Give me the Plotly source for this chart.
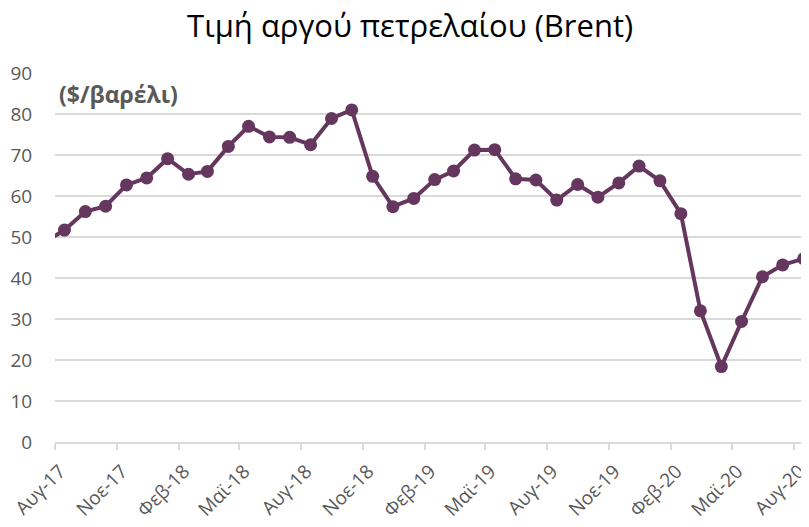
import plotly.graph_objects as go

months = ["2017-07-15", "2017-08-15", "2017-09-15", "2017-10-15", "2017-11-15", "2017-12-15",
          "2018-01-15", "2018-02-15", "2018-03-15", "2018-04-15", "2018-05-15", "2018-06-15",
          "2018-07-15", "2018-08-15", "2018-09-15", "2018-10-15", "2018-11-15", "2018-12-15",
          "2019-01-15", "2019-02-15", "2019-03-15", "2019-04-15", "2019-05-15", "2019-06-15",
          "2019-07-15", "2019-08-15", "2019-09-15", "2019-10-15", "2019-11-15", "2019-12-15",
          "2020-01-15", "2020-02-15", "2020-03-15", "2020-04-15", "2020-05-15", "2020-06-15",
          "2020-07-15", "2020-08-15"]
brent = [48.5, 51.7, 56.2, 57.5, 62.7, 64.4,
         69.1, 65.3, 66.0, 72.1, 77.0, 74.4,
         74.3, 72.5, 78.9, 81.0, 64.8, 57.4,
         59.4, 64.0, 66.1, 71.2, 71.3, 64.2,
         63.9, 59.0, 62.8, 59.7, 63.2, 67.3,
         63.7, 55.7, 32.0, 18.4, 29.4, 40.3,
         43.2, 44.7]

tick_dates = ["2017-08-01", "2017-11-01", "2018-02-01", "2018-05-01", "2018-08-01",
              "2018-11-01", "2019-02-01", "2019-05-01", "2019-08-01", "2019-11-01",
              "2020-02-01", "2020-05-01", "2020-08-01"]
tick_labels = ["Αυγ-17", "Νοε-17", "Φεβ-18", "Μαϊ-18", "Αυγ-18", "Νοε-18", "Φεβ-19",
               "Μαϊ-19", "Αυγ-19", "Νοε-19", "Φεβ-20", "Μαϊ-20", "Αυγ-20"]

color = "#66375e"
grey = "#595959"
FONT = "Open Sans"

fig = go.Figure()
fig.add_trace(go.Scatter(
    x=months, y=brent, mode="lines+markers",
    line=dict(color=color, width=4),
    marker=dict(color=color, size=13),
    showlegend=False,
))

# page body adds an 8px offset, so the figure is 8px smaller
fig.update_layout(
    width=801, height=519,
    margin=dict(l=47, r=0, t=65, b=85),
    paper_bgcolor="white", plot_bgcolor="white",
    font=dict(family=FONT, color=grey),
    title=dict(text="Τιμή αργού πετρελαίου (Brent)", x=0.502, xanchor="center",
               y=0.966, yanchor="middle",
               font=dict(family=FONT, size=31, color="#000000")),
    xaxis=dict(
        type="date", range=["2017-08-01", "2020-08-23"], automargin=False,
        tickmode="array", tickvals=tick_dates, ticktext=tick_labels,
        tickangle=-45, tickfont=dict(size=19, color=grey),
        ticklabeloverflow="allow", ticklabelshift=5, ticklabelstandoff=3,
        showgrid=False, showline=True, linecolor="#d9d9d9", linewidth=1.5,
        ticks="outside", ticklen=6, tickcolor="#d9d9d9", tickwidth=1.5,
        zeroline=False,
    ),
    yaxis=dict(
        range=[0, 90], tick0=0, dtick=10, automargin=False,
        tickfont=dict(size=19, color=grey),
        showgrid=True, gridcolor="#d9d9d9", gridwidth=1.5,
        zeroline=False, showline=False,
        ticks="outside", ticklen=18, tickcolor="rgba(0,0,0,0)",
    ),
    annotations=[dict(
        text="<b>($/βαρέλι)</b>", xref="paper", yref="y", x=0.002, y=85,
        xanchor="left", yanchor="middle", showarrow=False,
        font=dict(family=FONT, size=23, color=grey),
    )],
)

fig.write_html("out.html")
